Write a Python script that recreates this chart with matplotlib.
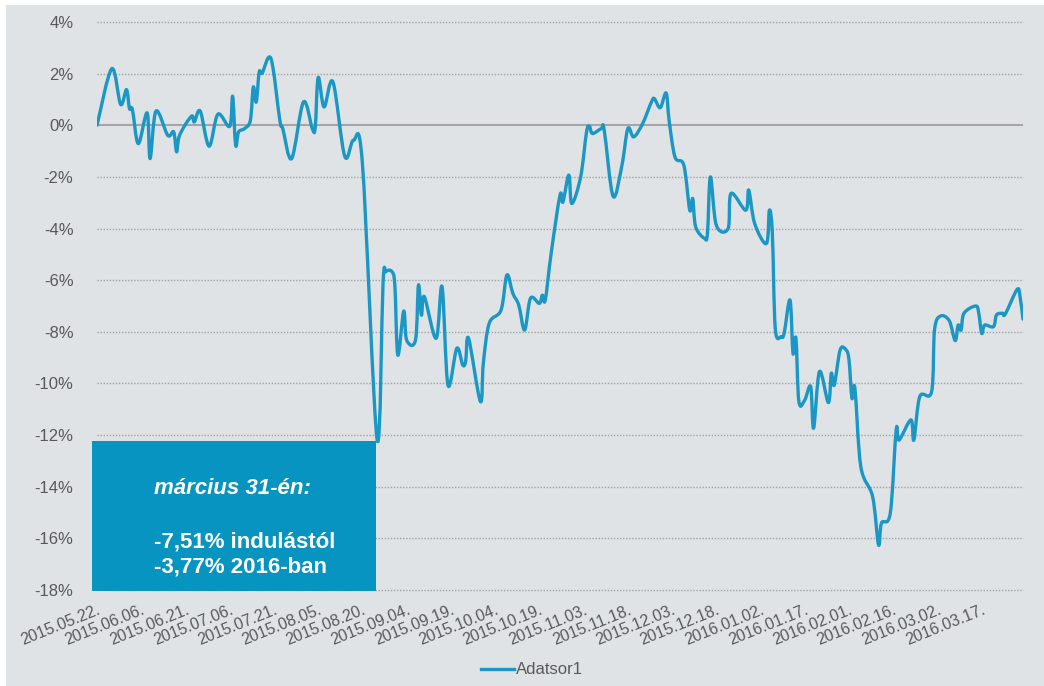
import pandas as pd
import numpy as np
import matplotlib
matplotlib.use("Agg")
import matplotlib.pyplot as plt
import matplotlib.dates as mdates
from matplotlib.patches import Rectangle, PathPatch
from matplotlib.path import Path
from matplotlib.lines import Line2D
from matplotlib.ticker import FuncFormatter

plt.rcParams["font.family"] = ["Liberation Sans", "DejaVu Sans"]

# data: day offset from start date, return in %
start_date = "2015-05-22"
end_date = "2016-03-31"
day_offset = [
    0, 5, 8, 10, 11, 12, 14, 17, 18, 20, 24, 26, 27, 28, 32, 33, 35, 38, 41, 45,
    46, 47, 48, 50, 52, 53, 54, 55, 56, 59, 62, 63, 66, 70, 73, 74, 75, 77, 80, 84,
    87, 90, 95, 97, 98, 100, 101, 102, 104, 105, 108, 109, 110, 111, 115, 117, 119, 122, 124, 125, 126, 130,
    131, 133, 137, 139, 141, 143, 145, 147, 150, 151, 152, 154, 157, 158, 160, 161, 164, 166, 167, 168,
    171, 172, 175, 178, 180, 182, 185, 188, 189, 191, 193, 194, 196, 199, 201, 202, 203, 206, 207, 208,
    210, 214, 215, 220, 221, 223, 227, 228, 229, 230, 232, 233, 235, 236, 237, 238, 240, 242, 243, 245,
    248, 249, 250, 252, 254, 255, 256, 257, 259, 263, 265, 266, 269, 271, 272, 276, 277, 279, 283, 284,
    286, 289, 291, 292, 293, 294, 298, 299, 300, 301, 304, 305, 307, 308, 312, 313, 314,
]
return_pct = [
    0.0, 2.19, 0.81, 1.38, 0.65, 0.61, -0.71, 0.48, -1.29, 0.55, -0.39, -0.26, -1.03, -0.39, 0.35, 0.13, 0.55, -0.81, 0.43, -0.04,
    1.12, -0.77, -0.26, -0.13, 0.19, 1.48, 0.90, 2.06, 2.02, 2.58, 0.19, -0.13, -1.29, 0.90, -0.13, -0.08, 1.85, 0.71, 1.68, -1.20,
    -0.58, -1.48, -12.19, -6.10, -5.67, -5.67, -6.20, -8.90, -7.20, -8.32, -8.32, -6.19, -7.35, -6.64, -8.25, -6.25, -10.06, -8.64, -9.28, -9.15, -8.25, -10.70,
    -9.22, -7.67, -7.16, -5.80, -6.51, -6.96, -7.93, -6.70, -6.90, -6.58, -6.77, -4.96, -2.71, -2.97, -1.93, -3.03, -2.00, -0.26, -0.04, -0.32,
    -0.13, -0.19, -2.75, -1.55, -0.13, -0.45, 0.06, 0.90, 1.03, 0.68, 1.25, 0.19, -1.23, -1.55, -3.29, -2.84, -3.93, -4.38, -4.19, -2.00,
    -3.87, -4.00, -2.64, -3.29, -2.51, -3.80, -4.58, -3.29, -4.19, -7.87, -8.19, -8.06, -6.77, -8.83, -8.25, -10.70, -10.64, -10.12, -11.73, -9.54,
    -10.74, -9.61, -10.06, -8.70, -8.70, -9.09, -10.57, -10.19, -13.22, -14.38, -16.25, -15.41, -15.02, -11.80, -12.19, -11.41, -12.19, -10.51, -10.32, -7.93,
    -7.39, -7.57, -8.34, -7.74, -7.93, -7.28, -7.00, -7.28, -8.06, -7.74, -7.80, -7.35, -7.28, -7.31, -6.36, -6.64, -7.51,
]
series_name = "Adatsor1"
y_ticks = [4, 2, 0, -2, -4, -6, -8, -10, -12, -14, -16, -18]
box_title = "március 31-én:"
box_lines = ["-7,51% indulástól", "-3,77% 2016-ban"]

bg = "#dfe3e6"
line_color = "#1a97c4"
box_color = "#0894c1"
text_gray = "#595959"

dates = pd.Timestamp(start_date) + pd.to_timedelta(day_offset, unit="D")
df = pd.DataFrame({"value": return_pct}, index=dates)


def smooth_path(x, y, k=6.0):
    """Excel-like smoothed line: Catmull-Rom segments as cubic Bezier curves."""
    pts = np.column_stack([x, y])
    padded = np.vstack([pts[0], pts, pts[-1]])
    verts = [pts[0]]
    codes = [Path.MOVETO]
    for i in range(len(pts) - 1):
        p0, p1, p2, p3 = padded[i], padded[i + 1], padded[i + 2], padded[i + 3]
        verts += [p1 + (p2 - p0) / k, p2 - (p3 - p1) / k, p2]
        codes += [Path.CURVE4] * 3
    return Path(verts, codes)


W, H = 1044, 686
fig = plt.figure(figsize=(W / 100, H / 100), dpi=100)
fig.patch.set_facecolor("white")
fig.patches.append(Rectangle((6 / W, 0), 1 - 6 / W, 1 - 5 / H, transform=fig.transFigure,
                             facecolor=bg, edgecolor="none", zorder=-1))

ax = fig.add_axes([97 / W, 1 - 590 / H, 926 / W, 568 / H])
ax.set_facecolor(bg)

xnum = mdates.date2num(df.index.to_pydatetime())
ax.add_patch(PathPatch(smooth_path(xnum, df["value"].to_numpy()), facecolor="none",
                       edgecolor=line_color, lw=2.4, joinstyle="round", capstyle="round", zorder=3))
ax.xaxis_date()

ax.set_xlim(pd.Timestamp(start_date), pd.Timestamp(end_date))
ax.set_ylim(-18, 4)
ax.set_yticks(y_ticks)
ax.yaxis.set_major_formatter(FuncFormatter(lambda v, p: f"{v:.0f}%"))

for v in y_ticks:
    if v == 0:
        ax.axhline(v, color="#a6a6a6", lw=1.5, zorder=1)
    else:
        ax.axhline(v, color="#a3a3a3", lw=1.0, ls=(0, (1, 1.2)), zorder=1, clip_on=False)

x_ticks = pd.date_range(start_date, end_date, freq="15D")
ax.set_xticks(x_ticks)
ax.set_xticklabels([d.strftime("%Y.%m.%d.") for d in x_ticks], rotation=22,
                   ha="right", va="top", rotation_mode="anchor")

for s in ax.spines.values():
    s.set_visible(False)
ax.tick_params(axis="both", length=0, colors=text_gray, labelsize=12)
ax.tick_params(axis="y", pad=17)
ax.tick_params(axis="x", pad=9, labelsize=11.5)

# annotation box
fig.patches.append(Rectangle((92 / W, 1 - 591 / H), 284 / W, 150 / H, transform=fig.transFigure,
                             facecolor=box_color, edgecolor="none", zorder=5))
fig.text(154 / W, 1 - 488 / H, box_title, color="white", fontsize=16, fontweight="bold",
         fontstyle="italic", ha="left", va="center", zorder=6)
fig.text(154 / W, 1 - 542 / H, box_lines[0], color="white", fontsize=16, fontweight="bold",
         ha="left", va="center", zorder=6)
fig.text(154 / W, 1 - 567 / H, box_lines[1], color="white", fontsize=16, fontweight="bold",
         ha="left", va="center", zorder=6)

handle = Line2D([], [], color=line_color, lw=2.4)
fig.legend([handle], [series_name], loc="center", bbox_to_anchor=(532 / W, 1 - 670 / H),
           frameon=False, fontsize=12, handlelength=2.0, handletextpad=0.1, labelcolor=text_gray)

fig.savefig("out.png", dpi=100, facecolor=fig.get_facecolor())
